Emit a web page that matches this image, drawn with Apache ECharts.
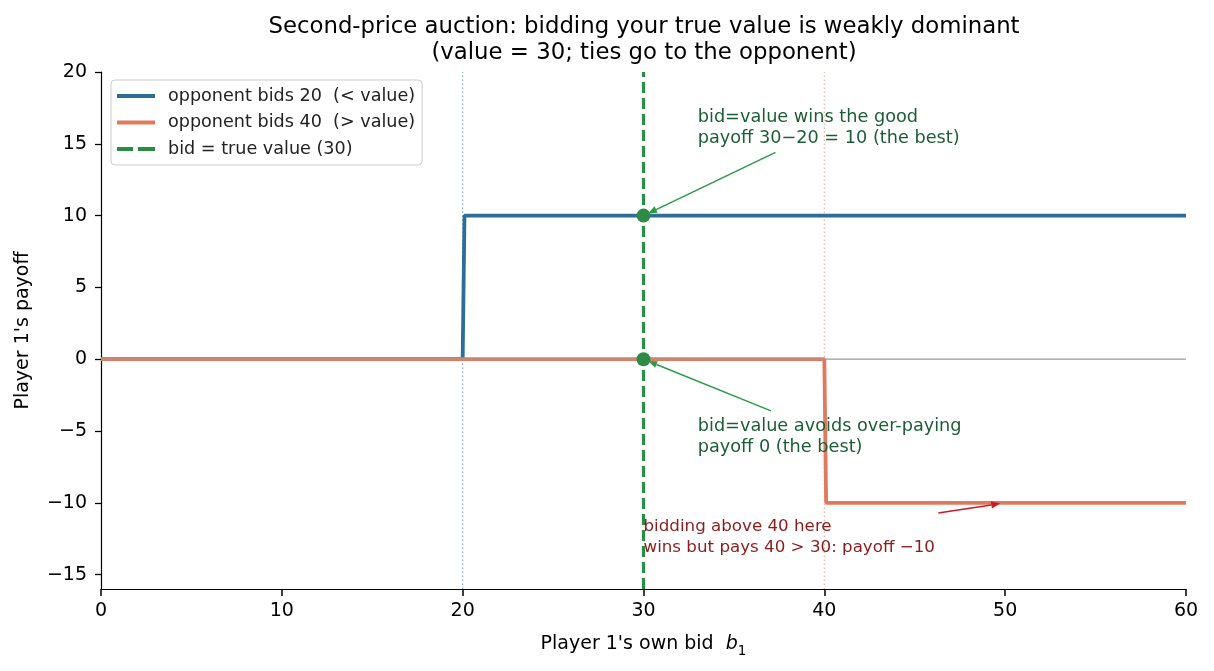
<!DOCTYPE html>
<html>
<head>
<meta charset="utf-8">
<script src="https://cdn.jsdelivr.net/npm/echarts@6/dist/echarts.min.js"></script>
<style>
html,body{margin:0;padding:0;background:#fff;}
#chart{width:1214px;height:671px;}
</style>
</head>
<body>
<div id="chart"></div>
<script>
// ---- data ----
const oppLowLine = [[0, 0], [20, 0], [20.1, 10], [60, 10]];      // opponent bids 20
const oppHighLine = [[0, 0], [40, 0], [40.1, -10], [60, -10]];   // opponent bids 40
const truthLine = [[30, -16], [30, 20]];
const oppLowMark = [[20, -16], [20, 20]];
const oppHighMark = [[40, -16], [40, 20]];
const zeroLine = [[0, 0], [60, 0]];
const truthPoints = [[30, 10], [30, 0]];
const yTicks = [-15, -10, -5, 0, 5, 10, 15, 20];
const xTicks = [0, 10, 20, 30, 40, 50, 60];
const seriesNames = ['opponent bids 20  (< value)', 'opponent bids 40  (> value)', 'bid = true value (30)'];

const annText = [
  'bid=value wins the good\npayoff 30\u221220 = 10 (the best)',
  'bid=value avoids over-paying\npayoff 0 (the best)',
  'bidding above 40 here\nwins but pays 40 > 30: payoff \u221210'
];
const annTextPos = [[33, 16.1], [33, -5.4], [30, -12.4]];
const annTail = [[37.3, 14.4], [37.05, -3.6], [46.3, -10.7]];
const annHead = [[30, 10], [30, 0], [50, -10]];
const annTextColor = ['#1b5e35', '#1b5e35', '#8a1c1c'];
const annArrowColor = ['#2e9a48', '#2e9a48', '#c81d25'];

const BLUE = '#2c6e98', ORANGE = '#e07a5f', GREEN = '#2b8c45';
const FONT = '"DejaVu Sans", sans-serif';
const minus = v => String(v).replace('-', '\u2212');
const SOLID_ICON = 'path://M0,0H38V4H0Z';
const DASH_ICON = 'path://M0,0H16V4H0Z M21,0H38V4H21Z';

const chart = echarts.init(document.getElementById('chart'), null, {renderer: 'canvas'});
const option = {
  animation: false,
  backgroundColor: '#fff',
  textStyle: {fontFamily: FONT},
  title: {
    text: 'Second-price auction: bidding your true value is weakly dominant\n(value = 30; ties go to the opponent)',
    left: 644, top: 14, textAlign: 'center', padding: 0,
    textStyle: {fontFamily: FONT, fontSize: 22.8, fontWeight: 'normal', color: '#000', lineHeight: 26}
  },
  grid: {left: 101, right: 28, top: 72, bottom: 82, containLabel: false},
  legend: {
    orient: 'vertical', left: 111, top: 80,
    data: [
      {name: seriesNames[0], icon: SOLID_ICON},
      {name: seriesNames[1], icon: SOLID_ICON},
      {name: seriesNames[2], icon: DASH_ICON}
    ],
    itemWidth: 38, itemHeight: 4, itemGap: 6.5,
    padding: [6, 7, 6, 6],
    backgroundColor: '#fff', borderColor: '#ccc', borderWidth: 1, borderRadius: 4,
    textStyle: {fontFamily: FONT, fontSize: 17.6, color: '#222', lineHeight: 20, padding: [0, 0, 0, 8]}
  },
  xAxis: {
    type: 'value', min: 0, max: 60, interval: 10,
    name: "Player 1's own bid  {i|b}{s|1}", nameLocation: 'middle', nameGap: 41,
    nameTextStyle: {
      fontFamily: FONT, fontSize: 19, color: '#000', lineHeight: 28,
      rich: {
        i: {fontFamily: FONT, fontSize: 19, fontStyle: 'italic', color: '#000'},
        s: {fontFamily: FONT, fontSize: 13.5, color: '#000', verticalAlign: 'bottom', lineHeight: 28}
      }
    },
    axisLine: {show: true, onZero: false, lineStyle: {color: '#000', width: 1.2}},
    axisTick: {show: true, inside: false, length: 7, lineStyle: {color: '#000', width: 1.5}},
    axisLabel: {fontFamily: FONT, fontSize: 19, color: '#000', margin: 13},
    splitLine: {show: false}
  },
  yAxis: {
    type: 'value', min: -16, max: 20,
    name: "Player 1's payoff", nameLocation: 'middle', nameGap: 68, nameRotate: 90,
    nameTextStyle: {fontFamily: FONT, fontSize: 19, color: '#000'},
    axisLine: {show: true, onZero: false, lineStyle: {color: '#000', width: 1.2}},
    axisTick: {show: true, inside: false, length: 6, customValues: yTicks, lineStyle: {color: '#000', width: 1.3}},
    axisLabel: {fontFamily: FONT, fontSize: 19, color: '#000', margin: 14, customValues: yTicks, formatter: minus},
    splitLine: {show: false}
  },
  series: [
    {type: 'line', name: 'oppLowMark', data: oppLowMark, symbol: 'none', silent: true, z: 1,
     lineStyle: {color: 'rgba(44,110,152,0.55)', width: 1.3, type: [1.5, 2.5]}},
    {type: 'line', name: 'oppHighMark', data: oppHighMark, symbol: 'none', silent: true, z: 1,
     lineStyle: {color: 'rgba(224,122,95,0.55)', width: 1.3, type: [1.5, 2.5]}},
    {type: 'line', name: seriesNames[0], data: oppLowLine, symbol: 'none', showSymbol: false, z: 2,
     itemStyle: {color: BLUE}, lineStyle: {color: BLUE, width: 3.8}},
    {type: 'line', name: seriesNames[1], data: oppHighLine, symbol: 'none', showSymbol: false, z: 3,
     itemStyle: {color: ORANGE}, lineStyle: {color: ORANGE, width: 3.8}},
    {type: 'line', name: 'zero', data: zeroLine, symbol: 'none', silent: true, z: 4,
     lineStyle: {color: '#999', width: 1.3}},
    {type: 'line', name: seriesNames[2], data: truthLine, symbol: 'none', showSymbol: false, z: 5,
     itemStyle: {color: GREEN}, lineStyle: {color: GREEN, width: 3.2, type: [11, 5]}},
    {type: 'scatter', name: 'truthPts', data: truthPoints, symbol: 'circle', symbolSize: 14, z: 6,
     itemStyle: {color: GREEN, opacity: 1}},
    {type: 'custom', name: 'annotations', z: 7, clip: false, silent: true,
     data: annHead.map((h, i) => [h[0], h[1], i]),
     encode: {x: 0, y: 1},
     renderItem: function (params, api) {
       const i = params.dataIndex;
       const head = api.coord(annHead[i]);
       const tail = api.coord(annTail[i]);
       const tp = api.coord(annTextPos[i]);
       const dx = head[0] - tail[0], dy = head[1] - tail[1];
       const L = Math.hypot(dx, dy), ux = dx / L, uy = dy / L;
       const shrink = 5, hl = 9, hw = 3.6;
       const tip = [head[0] - ux * shrink, head[1] - uy * shrink];
       const base = [tip[0] - ux * hl, tip[1] - uy * hl];
       const poly = [tip, [base[0] - uy * hw, base[1] + ux * hw], [base[0] + uy * hw, base[1] - ux * hw]];
       const fs = i === 2 ? 16.7 : 17.7;
       return {
         type: 'group',
         children: [
           {type: 'line', shape: {x1: tail[0], y1: tail[1], x2: base[0], y2: base[1]},
            style: {stroke: annArrowColor[i], lineWidth: 1.5}},
           {type: 'polygon', shape: {points: poly}, style: {fill: annArrowColor[i]}},
           {type: 'text', x: tp[0], y: tp[1],
            style: {text: annText[i], fill: annTextColor[i], fontFamily: FONT, fontSize: fs,
                    align: 'left', verticalAlign: 'middle', lineHeight: 21}}
         ]
       };
     }
    }
  ]
};
chart.setOption(option);
</script>
</body>
</html>
